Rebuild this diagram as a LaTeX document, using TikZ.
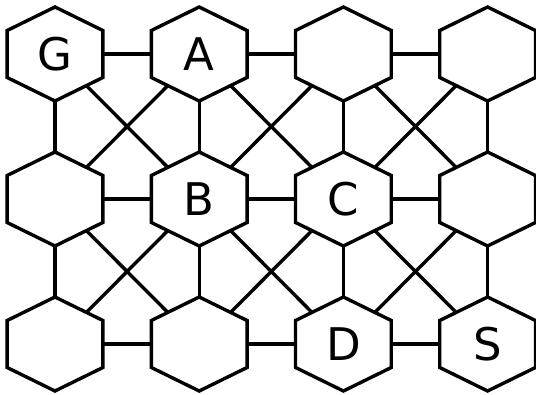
\documentclass[tikz,border=0pt]{standalone}
\usepackage{fontspec}
\setsansfont{DejaVu Sans}
\usetikzlibrary{positioning,shapes.geometric,backgrounds}

\begin{document}
\begin{tikzpicture}[
	node distance=145pt and 144.2pt,
	on grid,
	cell/.style={
		draw,
		fill=white,
		line width=3.4pt,
		regular polygon,
		regular polygon sides=6,
		shape border rotate=30,
		minimum size=94pt,
		inner sep=0pt,
		xscale=1.176
	},
	tag/.style={font=\sffamily\fontsize{45}{54}\selectfont,inner sep=0pt},
	link/.style={line width=3.4pt}
	]
	\useasboundingbox (0,0) rectangle (536pt,-394pt);
	
	\node[cell] (g) at (55pt,-54pt) {};
	\node[cell,right=of g] (a) {};
	\node[cell,right=of a] (top3) {};
	\node[cell,right=of top3] (top4) {};
	
	\node[cell,below=of g] (mid1) {};
	\node[cell,right=of mid1] (b) {};
	\node[cell,right=of b] (c) {};
	\node[cell,right=of c] (mid4) {};
	
	\node[cell,below=of mid1] (bot1) {};
	\node[cell,right=of bot1] (bot2) {};
	\node[cell,right=of bot2] (d) {};
	\node[cell,right=of d] (s) {};
	
	\node[tag] (lg) at (g) {G};
	\node[tag] (la) at (a) {A};
	\node[tag] (lb) at (b) {B};
	\node[tag] (lc) at (c) {C};
	\node[tag] (ld) at (d) {D};
	\node[tag] (ls) at (s) {S};
	
	\begin{pgfonlayer}{background}
		% rows
		\draw[link] (g.center) -- (a.center) -- (top3.center) -- (top4.center);
		\draw[link] (mid1.center) -- (b.center) -- (c.center) -- (mid4.center);
		\draw[link] (bot1.center) -- (bot2.center) -- (d.center) -- (s.center);
		% columns
		\draw[link] (g.center) -- (mid1.center) -- (bot1.center);
		\draw[link] (a.center) -- (b.center) -- (bot2.center);
		\draw[link] (top3.center) -- (c.center) -- (d.center);
		\draw[link] (top4.center) -- (mid4.center) -- (s.center);
		% crossings
		\draw[link] (g.center) -- (b.center) (a.center) -- (mid1.center);
		\draw[link] (a.center) -- (c.center) (top3.center) -- (b.center);
		\draw[link] (top3.center) -- (mid4.center) (top4.center) -- (c.center);
		\draw[link] (mid1.center) -- (bot2.center) (b.center) -- (bot1.center);
		\draw[link] (b.center) -- (d.center) (c.center) -- (bot2.center);
		\draw[link] (c.center) -- (s.center) (mid4.center) -- (d.center);
	\end{pgfonlayer}
	
\end{tikzpicture}
\end{document}
